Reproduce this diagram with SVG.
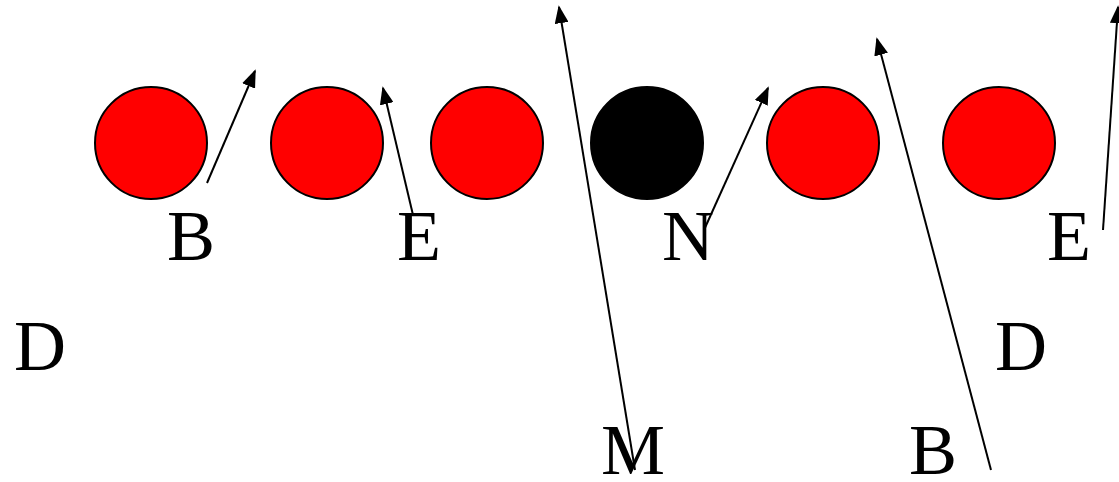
<svg xmlns="http://www.w3.org/2000/svg" width="1119" height="482" viewBox="0 0 1119 482">
<style>
.red{fill:#ff0000;stroke:#000;stroke-width:2}
.blk{fill:#000;stroke:#000;stroke-width:2}
.lbl{font-family:'Liberation Serif',serif;font-size:72px;fill:#000}
.edge{stroke:#000;stroke-width:2;fill:none}
</style>
<defs>
<marker id="ah" viewBox="0 0 10 10" refX="9" refY="5" markerWidth="18" markerHeight="14" markerUnits="userSpaceOnUse" orient="auto" preserveAspectRatio="none">
<path d="M0,0 L10,5 L0,10 Z" fill="#000"/>
</marker>
</defs>
<rect width="1119" height="482" fill="#fff"/>
<g id="n1"><circle class="red" cx="151" cy="143" r="56"/></g>
<g id="n2"><circle class="red" cx="327" cy="143" r="56"/></g>
<g id="n3"><circle class="red" cx="487" cy="143" r="56"/></g>
<g id="n4"><circle class="blk" cx="647" cy="143" r="56"/></g>
<g id="n5"><circle class="red" cx="823" cy="143" r="56"/></g>
<g id="n6"><circle class="red" cx="999" cy="143" r="56"/></g>
<g id="labels" font-family="Liberation Serif">
<text class="lbl" x="167" y="260">B</text>
<text class="lbl" x="397" y="260">E</text>
<text class="lbl" x="662" y="260">N</text>
<text class="lbl" x="1047" y="260">E</text>
<text class="lbl" x="14" y="370">D</text>
<text class="lbl" x="995" y="370">D</text>
<text class="lbl" x="601" y="474">M</text>
<text class="lbl" x="909" y="474">B</text>
</g>
<g id="connectors">
<line class="edge" marker-end="url(#ah)" x1="207" y1="183" x2="255" y2="71"/>
<line class="edge" marker-end="url(#ah)" x1="413" y1="215" x2="383" y2="88"/>
<line class="edge" marker-end="url(#ah)" x1="635" y1="470" x2="559" y2="7"/>
<line class="edge" marker-end="url(#ah)" x1="704" y1="230" x2="768" y2="88"/>
<line class="edge" marker-end="url(#ah)" x1="991" y1="470" x2="877" y2="39"/>
<line class="edge" marker-end="url(#ah)" x1="1103" y1="230" x2="1118" y2="7"/>
</g>
</svg>
